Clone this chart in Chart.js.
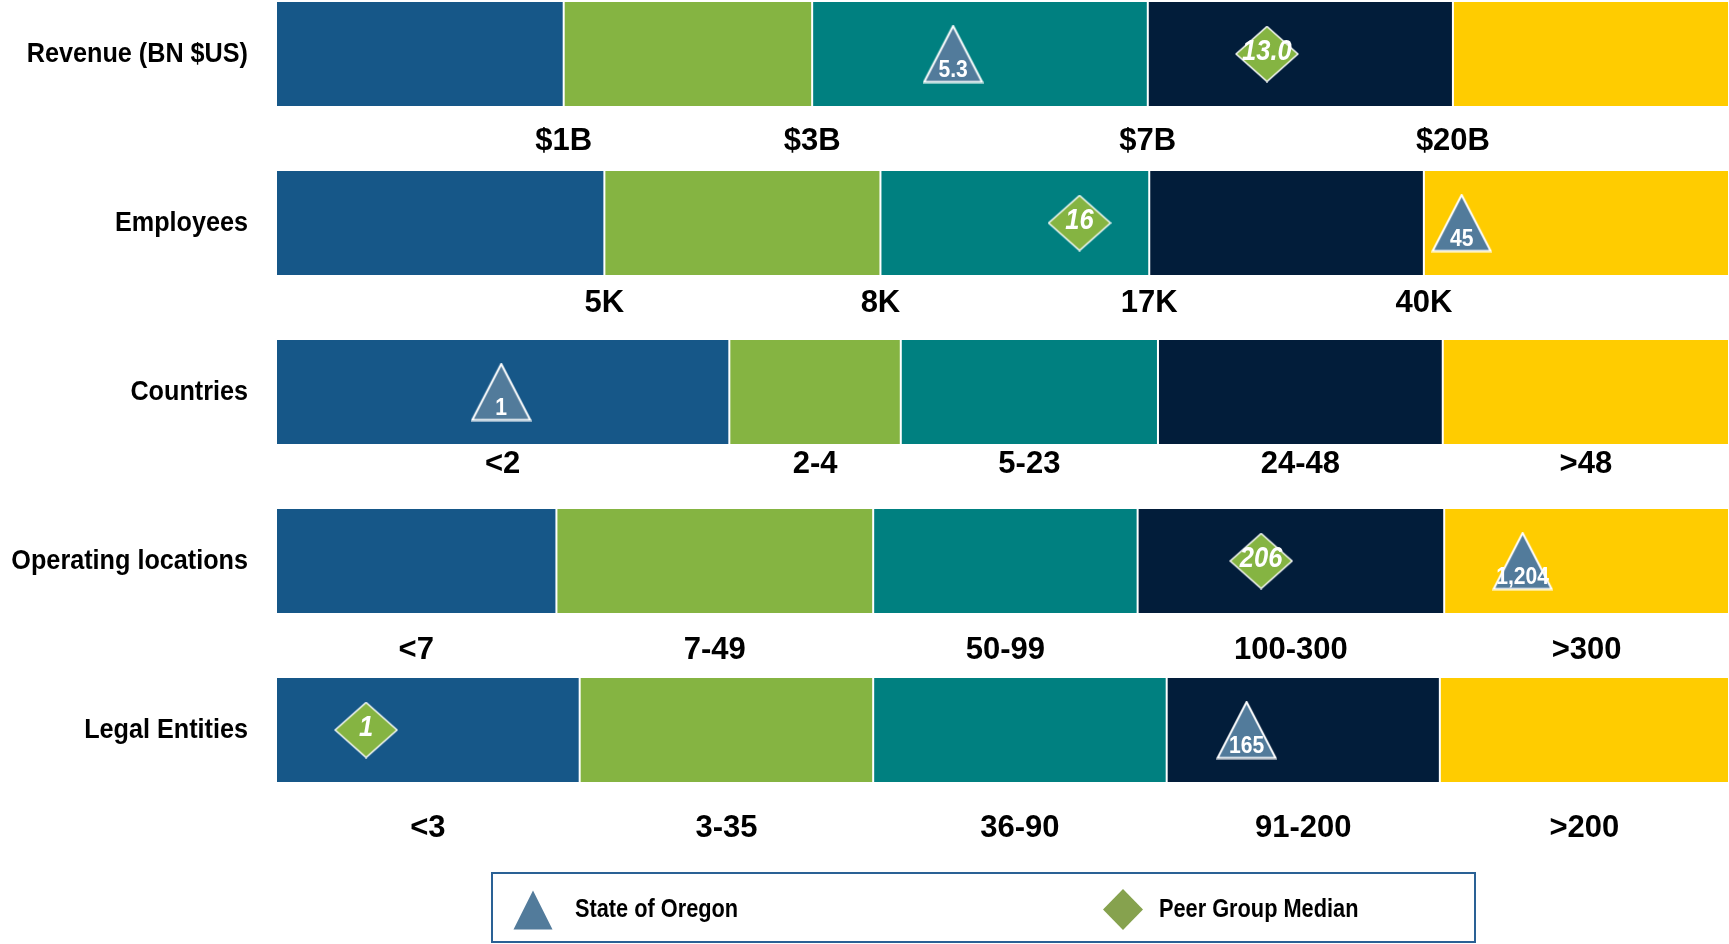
<!DOCTYPE html>
<html>
<head>
<meta charset="utf-8">
<title>Size profile</title>
<script src="https://cdn.jsdelivr.net/npm/chart.js@4.4.1/dist/chart.umd.min.js"></script>
<style>
  html, body { margin: 0; padding: 0; background: #fff; }
  #wrap { position: relative; width: 1729px; height: 944px; }
</style>
</head>
<body>
<div id="wrap"><canvas id="profile"></canvas></div>
<script>
var rows = ['Revenue (BN $US)', 'Employees', 'Countries', 'Operating locations', 'Legal Entities'];

// width of each size band along its row, in percent of the row
var band1 = [19.8, 22.6, 31.2, 19.3, 20.9];
var band2 = [17.1, 19.0, 11.8, 21.8, 20.2];
var band3 = [23.1, 18.5, 17.7, 18.2, 20.2];
var band4 = [21.0, 18.9, 19.6, 21.1, 18.8];
var band5 = [19.0, 21.0, 19.7, 19.6, 19.9];

// 4 labels = cut points between bands, 5 labels = one range per band
var binLabels = [
  ['$1B', '$3B', '$7B', '$20B'],
  ['5K', '8K', '17K', '40K'],
  ['<2', '2-4', '5-23', '24-48', '>48'],
  ['<7', '7-49', '50-99', '100-300', '>300'],
  ['<3', '3-35', '36-90', '91-200', '>200']
];

// marker position along each row (percent) and the figure printed on it
var oregonPos = [46.6, 81.6, 15.5, 85.8, 66.8];
var oregonText = ['5.3', '45', '1', '1,204', '165'];
var peerPos = [68.2, 55.3, null, 67.8, 6.2];
var peerText = ['13.0', '16', null, '206', '1'];

var bandColors = ['#165788', '#85b442', '#008080', '#021d3a', '#ffcc00'];
var binLabelDrop = [35, 28, 20, 37, 46];
var sans = "'Liberation Sans', Arial, sans-serif";

// Arial-Narrow look: regular bold face squeezed horizontally
function narrowText(ctx, txt, x, y, size, squeeze, style) {
  ctx.save();
  ctx.font = (style || 'bold') + ' ' + size + 'px ' + sans;
  ctx.translate(x, y);
  ctx.scale(squeeze, 1);
  ctx.fillText(txt, 0, 0);
  ctx.restore();
}

function triangleIcon(w, h, fill, stroke) {
  var c = document.createElement('canvas');
  c.width = w; c.height = h;
  var g = c.getContext('2d');
  g.beginPath();
  g.moveTo(w / 2, 1.5);
  g.lineTo(w - 1.5, h - 1.5);
  g.lineTo(1.5, h - 1.5);
  g.closePath();
  g.fillStyle = fill;
  g.fill();
  if (stroke) { g.lineWidth = 2; g.strokeStyle = stroke; g.stroke(); }
  return c;
}

function diamondIcon(w, h, fill, stroke) {
  var c = document.createElement('canvas');
  c.width = w; c.height = h;
  var g = c.getContext('2d');
  g.beginPath();
  g.moveTo(w / 2, 1);
  g.lineTo(w - 1, h / 2);
  g.lineTo(w / 2, h - 1);
  g.lineTo(1, h / 2);
  g.closePath();
  g.fillStyle = fill;
  g.fill();
  if (stroke) { g.lineWidth = 1.5; g.strokeStyle = stroke; g.stroke(); }
  return c;
}

function points(pos) {
  var out = [];
  pos.forEach(function (p, i) {
    if (p !== null) out.push({ x: p, y: rows[i] });
  });
  return out;
}
function texts(list) {
  return list.filter(function (t) { return t !== null; });
}

var datasets = [
  {
    type: 'scatter',
    label: 'State of Oregon',
    data: points(oregonPos),
    markerText: texts(oregonText),
    markerKind: 'triangle',
    pointStyle: triangleIcon(61, 59, '#527b9b', '#ffffff'),
    pointRadius: 30,
    order: -1,
    clip: false
  },
  {
    type: 'scatter',
    label: 'Peer Group Median',
    data: points(peerPos),
    markerText: texts(peerText),
    markerKind: 'diamond',
    pointStyle: diamondIcon(64, 57, '#85b442', '#ffffff'),
    pointRadius: 30,
    order: -1,
    clip: false
  }
];

[band1, band2, band3, band4, band5].forEach(function (band, i) {
  datasets.push({
    type: 'bar',
    indexAxis: 'y',
    data: band,
    backgroundColor: bandColors[i],
    borderColor: '#ffffff',
    borderWidth: { left: 1, right: 1, top: 0, bottom: 0 },
    borderSkipped: false,
    grouped: false,
    maxBarThickness: 104,
    clip: false
  });
});

// row names to the left of the bars
var rowNames = {
  id: 'rowNames',
  afterDraw: function (chart) {
    var ctx = chart.ctx;
    var y = chart.scales.y;
    ctx.save();
    ctx.fillStyle = '#000';
    ctx.textAlign = 'right';
    ctx.textBaseline = 'middle';
    y.getLabels().forEach(function (name, i) {
      narrowText(ctx, name, y.right - 28, y.getPixelForValue(i), 28, 0.9);
    });
    ctx.restore();
  }
};

// range / cut-point text under every row
var binText = {
  id: 'binText',
  afterDatasetsDraw: function (chart) {
    var ctx = chart.ctx;
    var bars = chart.getSortedVisibleDatasetMetas().filter(function (m) { return m.type === 'bar'; });
    ctx.save();
    ctx.fillStyle = '#000';
    ctx.font = 'bold 31px ' + sans;
    ctx.textAlign = 'center';
    ctx.textBaseline = 'middle';
    binLabels.forEach(function (labels, r) {
      var els = bars.map(function (m) { return m.data[r]; });
      var y = els[0].y + els[0].height / 2 + binLabelDrop[r];
      labels.forEach(function (txt, j) {
        var el = els[j];
        var x = labels.length < els.length ? el.x : (el.base + el.x) / 2;
        ctx.fillText(txt, x, y);
      });
    });
    ctx.restore();
  }
};

// figures printed inside the markers
var markerText = {
  id: 'markerText',
  afterDatasetsDraw: function (chart) {
    var ctx = chart.ctx;
    ctx.save();
    ctx.fillStyle = '#fff';
    ctx.textAlign = 'center';
    ctx.textBaseline = 'middle';
    chart.data.datasets.forEach(function (ds, d) {
      if (!ds.markerText) return;
      chart.getDatasetMeta(d).data.forEach(function (pt, i) {
        if (ds.markerKind === 'triangle') {
          narrowText(ctx, ds.markerText[i], pt.x, pt.y + 16, 24, 0.88);
        } else {
          narrowText(ctx, ds.markerText[i], pt.x, pt.y - 2, 29, 0.88, 'italic bold');
        }
      });
    });
    ctx.restore();
  }
};

// framed legend along the bottom
var boxLegend = {
  id: 'boxLegend',
  afterDraw: function (chart) {
    var ctx = chart.ctx;
    var sets = chart.data.datasets;
    ctx.save();
    ctx.strokeStyle = '#2a6195';
    ctx.lineWidth = 2;
    ctx.strokeRect(492, 873, 983, 69);
    ctx.drawImage(triangleIcon(42, 42, '#527b9b'), 512, 889);
    ctx.drawImage(diamondIcon(42, 43, '#86a24e'), 1102, 888);
    ctx.fillStyle = '#000';
    ctx.textBaseline = 'middle';
    ctx.textAlign = 'left';
    narrowText(ctx, sets[0].label, 575, 910, 25, 0.87);
    narrowText(ctx, sets[1].label, 1159, 910, 25, 0.87);
    ctx.restore();
  }
};

new Chart(document.getElementById('profile'), {
  type: 'bar',
  data: {
    labels: rows,
    datasets: datasets
  },
  options: {
    responsive: true,
    maintainAspectRatio: false,
    animation: false,
    events: [],
    layout: { autoPadding: false, padding: { top: 54, bottom: 214, left: 0, right: 0 } },
    plugins: {
      legend: { display: false },
      tooltip: { enabled: false }
    },
    scales: {
      x: { type: 'linear', stacked: true, offset: false, min: 0, max: 100, display: false },
      y: {
        type: 'category',
        offset: false,
        grid: { display: false, drawTicks: false },
        border: { display: false },
        ticks: { display: false },
        afterFit: function (scale) { scale.width = 276; }
      }
    }
  },
  plugins: [rowNames, binText, markerText, boxLegend]
});
</script>
</body>
</html>
